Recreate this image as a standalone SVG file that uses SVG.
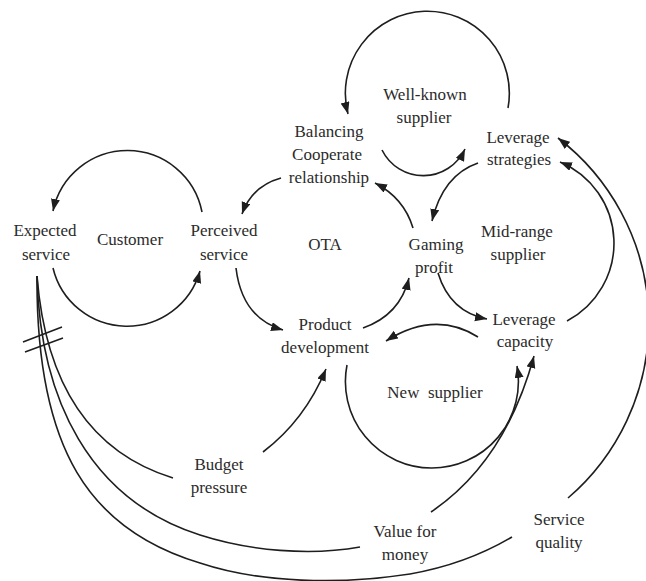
<svg xmlns="http://www.w3.org/2000/svg" width="646" height="581" viewBox="0 0 646 581">
  <style>
    text { font-family: "Liberation Serif", "Times New Roman", serif; font-size: 17px; fill: #2b2b2b; text-anchor: middle; }
    .link { fill: none; stroke: #1e1e1e; stroke-width: 1.6; }
    .arrow { marker-end: url(#head); }
  </style>
  <defs>
    <marker id="head" markerUnits="userSpaceOnUse" markerWidth="13" markerHeight="10" refX="12" refY="4.5" orient="auto">
      <path d="M0,0 L12,4.5 L0,9 Z" fill="#1e1e1e"/>
    </marker>
  </defs>

  <rect width="646" height="581" fill="#ffffff"/>

  <!-- causal links -->
  <g id="connectors">
    <!-- Customer loop -->
    <path class="link arrow" d="M202,212 A76,76 0 0 0 53,211"/>
    <path class="link arrow" d="M53,268 A76,76 0 0 0 200,271"/>

    <!-- OTA loop -->
    <path class="link arrow" d="M281,178 Q252,186 242,214"/>
    <path class="link arrow" d="M236,268 Q242,318 283,330"/>
    <path class="link arrow" d="M363,328 Q400,315 409,278"/>
    <path class="link arrow" d="M413,228 Q404,198 375,183"/>

    <!-- Well-known supplier loop -->
    <path class="link arrow" d="M508,108 A82,82 0 1 0 348,114"/>
    <path class="link arrow" d="M382,150 A46,46 0 0 0 465,149"/>

    <!-- Mid-range supplier loop -->
    <path class="link arrow" d="M478,163 Q443,175 432,221"/>
    <path class="link arrow" d="M438,273 Q450,312 487,319"/>
    <path class="link arrow" d="M567,321 A88,88 0 0 0 560,162"/>

    <!-- New supplier loop -->
    <path class="link arrow" d="M478,337 Q435,310 386,341"/>
    <path class="link arrow" d="M347,365 A86.5,86.5 0 1 0 517,366"/>

    <!-- external drivers -->
    <path class="link arrow" d="M263,452 Q305,420 326,369"/>
    <path class="link arrow" d="M431,512 Q505,462 534,356"/>
    <path class="link arrow" d="M568,498 A232,232 0 0 0 558,138"/>

    <!-- delayed links into Expected service -->
    <path class="link" d="M37,276 Q50,440 173,478"/>
    <path class="link" d="M37,276 C40,400 90,500 200,535 C250,551 310,556 360,547"/>
    <path class="link" d="M37,276 C36,450 90,530 200,563 C260,583 340,585 410,574 C450,567 485,553 512,537"/>
    <!-- delay mark -->
    <path class="link" d="M23,342 L62,327 M25,352 L63,338"/>
  </g>

  <g id="expected-service">
    <text x="45" y="236">Expected</text>
    <text x="46" y="260">service</text>
  </g>
  <g id="customer">
    <text x="130" y="245">Customer</text>
  </g>
  <g id="perceived-service">
    <text x="224" y="236">Perceived</text>
    <text x="224" y="260">service</text>
  </g>
  <g id="balancing-relationship">
    <text x="329" y="137">Balancing</text>
    <text x="327" y="160">Cooperate</text>
    <text x="329" y="183">relationship</text>
  </g>
  <g id="well-known-supplier">
    <text x="425" y="100">Well-known</text>
    <text x="424" y="123">supplier</text>
  </g>
  <g id="leverage-strategies">
    <text x="518" y="143">Leverage</text>
    <text x="519" y="165">strategies</text>
  </g>
  <g id="ota">
    <text x="325" y="250">OTA</text>
  </g>
  <g id="gaming-profit">
    <text x="436" y="250">Gaming</text>
    <text x="434" y="273">profit</text>
  </g>
  <g id="mid-range-supplier">
    <text x="517" y="237">Mid-range</text>
    <text x="518" y="260">supplier</text>
  </g>
  <g id="leverage-capacity">
    <text x="524" y="325">Leverage</text>
    <text x="525" y="347">capacity</text>
  </g>
  <g id="product-development">
    <text x="325" y="330">Product</text>
    <text x="325" y="353">development</text>
  </g>
  <g id="new-supplier">
    <text x="435" y="398">New&#160; supplier</text>
  </g>
  <g id="budget-pressure">
    <text x="219" y="470">Budget</text>
    <text x="219" y="493">pressure</text>
  </g>
  <g id="value-for-money">
    <text x="405" y="537">Value for</text>
    <text x="405" y="560">money</text>
  </g>
  <g id="service-quality">
    <text x="559" y="525">Service</text>
    <text x="559" y="548">quality</text>
  </g>
</svg>
